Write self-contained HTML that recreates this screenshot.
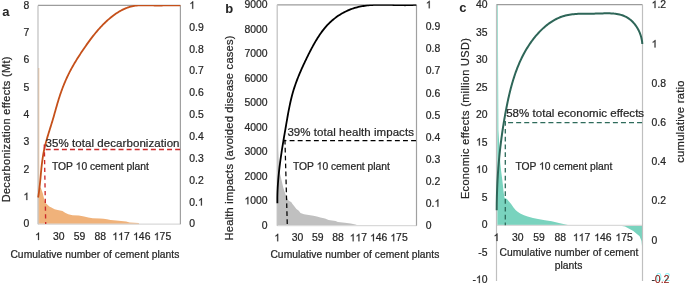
<!DOCTYPE html>
<html><head><meta charset="utf-8"><style>
html,body{margin:0;padding:0;background:#fff;}
svg{display:block;will-change:transform;}
text{font-family:"Liberation Sans", sans-serif;fill:#262626;}
text{stroke:#262626;stroke-width:0.22px;}
.one{stroke:#262626;stroke-width:0.22px;vector-effect:non-scaling-stroke;}
</style></head><body>
<svg width="685" height="284" viewBox="0 0 685 284" xmlns="http://www.w3.org/2000/svg">
<rect width="685" height="284" fill="#fff"/>

<path d="M38.00,224.20 L38.00,70.00 L38.60,184.00 L39.50,186.50 L41.00,188.30 L42.70,193.00 L44.30,199.40 L45.60,202.90 L47.20,204.40 L49.30,206.60 L51.40,207.60 L54.60,209.20 L57.70,209.90 L62.50,211.00 L65.10,212.70 L68.30,214.20 L72.50,215.20 L78.80,215.60 L84.10,216.60 L88.30,217.60 L92.60,218.20 L100.00,218.40 L103.50,218.70 L107.00,219.20 L110.60,219.90 L116.20,220.60 L121.10,221.10 L126.10,221.60 L129.60,222.50 L138.70,223.10 L139.20,224.20 Z" fill="#F0B27A"/>
<rect x="38" y="68" width="1.3" height="156.2" fill="#F3C79C"/>
<line x1="38.0" y1="224.2" x2="180.4" y2="224.2" stroke="#D9D9D9" stroke-width="1.2"/>
<line x1="38.0" y1="5.4" x2="180.4" y2="5.4" stroke="#9C9C9C" stroke-width="1.2"/>
<line x1="38.0" y1="5.4" x2="38.0" y2="224.2" stroke="#BFBFBF" stroke-width="1.2"/>
<line x1="180.4" y1="5.4" x2="180.4" y2="224.2" stroke="#A0A0A0" stroke-width="1.2"/>
<clipPath id="clipA"><rect x="30" y="5.0" width="151" height="230"/></clipPath>
<path d="M38.13,197.50 L38.33,196.28 L38.52,195.06 L38.70,193.84 L38.88,192.61 L39.04,191.39 L39.20,190.16 L39.35,188.93 L39.49,187.70 L39.63,186.47 L39.77,185.24 L39.90,184.00 L40.02,182.77 L40.14,181.53 L40.26,180.29 L40.38,179.06 L40.50,177.82 L40.61,176.58 L40.73,175.34 L40.84,174.11 L40.96,172.87 L41.08,171.63 L41.20,170.39 L41.32,169.16 L41.45,167.92 L41.58,166.69 L41.72,165.45 L41.86,164.22 L42.01,162.99 L42.16,161.75 L42.32,160.53 L42.49,159.30 L42.67,158.07 L42.85,156.85 L43.05,155.62 L43.25,154.40 L43.47,153.19 L43.70,151.97 L43.94,150.76 L44.19,149.54 L44.46,148.34 L44.73,147.13 L45.02,145.93 L45.32,144.73 L45.63,143.53 L45.95,142.33 L46.27,141.13 L46.61,139.94 L46.95,138.75 L47.29,137.56 L47.65,136.37 L48.00,135.18 L48.37,133.99 L48.73,132.80 L49.10,131.62 L49.47,130.43 L49.84,129.25 L50.21,128.06 L50.58,126.87 L50.95,125.69 L51.32,124.50 L51.69,123.32 L52.05,122.13 L52.41,120.94 L52.77,119.76 L53.12,118.57 L53.46,117.38 L53.81,116.19 L54.15,114.99 L54.49,113.80 L54.82,112.61 L55.16,111.42 L55.49,110.23 L55.83,109.04 L56.17,107.85 L56.50,106.66 L56.85,105.47 L57.19,104.28 L57.54,103.09 L57.89,101.90 L58.25,100.72 L58.61,99.53 L58.98,98.35 L59.36,97.17 L59.74,95.99 L60.13,94.81 L60.53,93.64 L60.94,92.46 L61.36,91.29 L61.78,90.12 L62.21,88.96 L62.65,87.80 L63.09,86.64 L63.55,85.48 L64.01,84.33 L64.48,83.18 L64.96,82.04 L65.45,80.90 L65.95,79.76 L66.45,78.63 L66.97,77.50 L67.49,76.38 L68.02,75.26 L68.57,74.15 L69.12,73.04 L69.68,71.94 L70.25,70.84 L70.83,69.75 L71.41,68.67 L72.01,67.59 L72.61,66.51 L73.22,65.44 L73.84,64.37 L74.47,63.30 L75.10,62.24 L75.74,61.18 L76.38,60.13 L77.04,59.08 L77.69,58.03 L78.36,56.99 L79.02,55.95 L79.70,54.91 L80.38,53.87 L81.06,52.84 L81.75,51.81 L82.44,50.78 L83.13,49.75 L83.83,48.72 L84.53,47.69 L85.24,46.67 L85.95,45.65 L86.66,44.63 L87.38,43.62 L88.11,42.61 L88.84,41.60 L89.57,40.60 L90.31,39.60 L91.06,38.61 L91.81,37.62 L92.57,36.64 L93.34,35.66 L94.11,34.69 L94.89,33.72 L95.68,32.76 L96.48,31.81 L97.28,30.87 L98.10,29.93 L98.92,29.00 L99.75,28.08 L100.59,27.17 L101.43,26.26 L102.29,25.37 L103.16,24.48 L104.04,23.60 L104.92,22.74 L105.82,21.88 L106.73,21.03 L107.65,20.20 L108.58,19.37 L109.52,18.56 L110.47,17.76 L111.44,16.98 L112.42,16.21 L113.40,15.46 L114.40,14.72 L115.41,14.00 L116.43,13.31 L117.47,12.63 L118.51,11.98 L119.57,11.35 L120.64,10.75 L121.72,10.17 L122.81,9.62 L123.91,9.10 L125.03,8.61 L126.15,8.15 L127.29,7.72 L128.44,7.32 L129.60,6.96 L130.77,6.63 L131.96,6.34 L133.16,6.09 L134.36,5.87 L135.58,5.69 L136.81,5.55 L138.05,5.43 L139.30,5.35 L140.55,5.29 L141.81,5.25 L143.07,5.23 L144.34,5.23 L145.61,5.24 L146.88,5.27 L148.15,5.30 L149.42,5.33 L150.69,5.37 L151.95,5.41 L153.21,5.45 L154.47,5.48 L155.72,5.50 L156.96,5.51 L158.20,5.52 L159.43,5.51 L160.66,5.50 L161.88,5.49 L163.11,5.47 L164.33,5.45 L165.55,5.42 L166.77,5.39 L167.99,5.37 L169.21,5.34 L170.44,5.32 L171.67,5.30 L172.90,5.29 L174.14,5.28 L175.38,5.28 L176.63,5.28 L177.88,5.29 L179.15,5.32 L180.42,5.35" fill="none" stroke="#C5501A" stroke-width="1.8" stroke-linejoin="round" clip-path="url(#clipA)"/>
<line x1="45.7" y1="149.5" x2="180.4" y2="149.5" stroke="#CC2A2A" stroke-width="1.35" stroke-dasharray="5.0,3.09" stroke-dashoffset="0.00"/>
<line x1="44.3" y1="144.4" x2="45.7" y2="224.0" stroke="#CC2A2A" stroke-width="1.35" stroke-dasharray="4.4,3.35" stroke-dashoffset="0.00"/>
<text x="23.41" y="227.42" font-size="10.4" fill="#262626" xml:space="preserve">0</text>
<path class="one" d="M763,0 L583,0 L583,1147 Q518,1085 424,1029.5 Q330,974 224,935 L224,1109 Q375,1180 487,1279.5 Q599,1379 642,1472 L763,1472 Z" transform="translate(23.42,200.10) scale(0.005078,-0.005078)" fill="#262626"/>
<text x="23.41" y="172.77" font-size="10.4" fill="#262626" xml:space="preserve">2</text>
<text x="23.41" y="145.45" font-size="10.4" fill="#262626" xml:space="preserve">3</text>
<text x="23.41" y="118.12" font-size="10.4" fill="#262626" xml:space="preserve">4</text>
<text x="23.41" y="90.80" font-size="10.4" fill="#262626" xml:space="preserve">5</text>
<text x="23.41" y="63.47" font-size="10.4" fill="#262626" xml:space="preserve">6</text>
<text x="23.41" y="36.15" font-size="10.4" fill="#262626" xml:space="preserve">7</text>
<text x="23.41" y="8.82" font-size="10.4" fill="#262626" xml:space="preserve">8</text>
<text x="189.30" y="227.42" font-size="10.4" fill="#262626" xml:space="preserve">0</text>
<text x="189.30" y="205.56" font-size="10.4" fill="#262626" xml:space="preserve">0.</text>
<path class="one" d="M763,0 L583,0 L583,1147 Q518,1085 424,1029.5 Q330,974 224,935 L224,1109 Q375,1180 487,1279.5 Q599,1379 642,1472 L763,1472 Z" transform="translate(197.97,205.56) scale(0.005078,-0.005078)" fill="#262626"/>
<text x="189.30" y="183.70" font-size="10.4" fill="#262626" xml:space="preserve">0.2</text>
<text x="189.30" y="161.84" font-size="10.4" fill="#262626" xml:space="preserve">0.3</text>
<text x="189.30" y="139.98" font-size="10.4" fill="#262626" xml:space="preserve">0.4</text>
<text x="189.30" y="118.12" font-size="10.4" fill="#262626" xml:space="preserve">0.5</text>
<text x="189.30" y="96.26" font-size="10.4" fill="#262626" xml:space="preserve">0.6</text>
<text x="189.30" y="74.40" font-size="10.4" fill="#262626" xml:space="preserve">0.7</text>
<text x="189.30" y="52.54" font-size="10.4" fill="#262626" xml:space="preserve">0.8</text>
<text x="189.30" y="30.68" font-size="10.4" fill="#262626" xml:space="preserve">0.9</text>
<path class="one" d="M763,0 L583,0 L583,1147 Q518,1085 424,1029.5 Q330,974 224,935 L224,1109 Q375,1180 487,1279.5 Q599,1379 642,1472 L763,1472 Z" transform="translate(189.30,8.82) scale(0.005078,-0.005078)" fill="#262626"/>
<path class="one" d="M763,0 L583,0 L583,1147 Q518,1085 424,1029.5 Q330,974 224,935 L224,1109 Q375,1180 487,1279.5 Q599,1379 642,1472 L763,1472 Z" transform="translate(35.11,240.00) scale(0.005078,-0.005078)" fill="#262626"/>
<text x="52.97" y="240.00" font-size="10.4" fill="#262626" xml:space="preserve">30</text>
<text x="73.72" y="240.00" font-size="10.4" fill="#262626" xml:space="preserve">59</text>
<text x="94.47" y="240.00" font-size="10.4" fill="#262626" xml:space="preserve">88</text>
<path class="one" d="M763,0 L583,0 L583,1147 Q518,1085 424,1029.5 Q330,974 224,935 L224,1109 Q375,1180 487,1279.5 Q599,1379 642,1472 L763,1472 Z" transform="translate(112.33,240.00) scale(0.005078,-0.005078)" fill="#262626"/>
<path class="one" d="M763,0 L583,0 L583,1147 Q518,1085 424,1029.5 Q330,974 224,935 L224,1109 Q375,1180 487,1279.5 Q599,1379 642,1472 L763,1472 Z" transform="translate(118.11,240.00) scale(0.005078,-0.005078)" fill="#262626"/>
<text x="123.90" y="240.00" font-size="10.4" fill="#262626" xml:space="preserve">7</text>
<path class="one" d="M763,0 L583,0 L583,1147 Q518,1085 424,1029.5 Q330,974 224,935 L224,1109 Q375,1180 487,1279.5 Q599,1379 642,1472 L763,1472 Z" transform="translate(133.08,240.00) scale(0.005078,-0.005078)" fill="#262626"/>
<text x="138.87" y="240.00" font-size="10.4" fill="#262626" xml:space="preserve">46</text>
<path class="one" d="M763,0 L583,0 L583,1147 Q518,1085 424,1029.5 Q330,974 224,935 L224,1109 Q375,1180 487,1279.5 Q599,1379 642,1472 L763,1472 Z" transform="translate(153.83,240.00) scale(0.005078,-0.005078)" fill="#262626"/>
<text x="159.62" y="240.00" font-size="10.4" fill="#262626" xml:space="preserve">75</text>
<text x="10.4" y="257.5" font-size="10.3" textLength="169">Cumulative number of cement plants</text>
<text transform="translate(10.2,202.3) rotate(-90)" font-size="10.9" textLength="145.8" >Decarbonization effects (Mt)</text>
<text x="2.2" y="15.8" font-size="13" font-weight="bold" fill="#000" style="stroke:none">a</text>
<text x="45.5" y="147" font-size="11.5" textLength="134" fill="#262626">35% total decarbonization</text>
<text x="52.00" y="169.60" font-size="10.3" fill="#262626" xml:space="preserve">TOP </text>
<path class="one" d="M763,0 L583,0 L583,1147 Q518,1085 424,1029.5 Q330,974 224,935 L224,1109 Q375,1180 487,1279.5 Q599,1379 642,1472 L763,1472 Z" transform="translate(75.66,169.60) scale(0.005029,-0.005029)" fill="#262626"/>
<text x="81.39" y="169.60" font-size="10.3" fill="#262626" xml:space="preserve">0 cement plant</text>
<path d="M277.20,225.70 L277.20,60.00 L278.30,150.00 L279.10,170.00 L281.10,178.20 L283.20,187.30 L284.20,190.40 L286.20,196.50 L288.30,200.30 L290.00,201.40 L291.20,202.00 L292.30,203.80 L294.70,206.70 L296.40,209.00 L298.80,210.80 L300.50,213.10 L304.00,214.30 L308.70,215.10 L313.40,215.80 L316.90,216.60 L320.40,217.40 L325.00,218.40 L328.60,220.10 L335.60,220.90 L337.90,221.90 L344.90,222.80 L350.70,223.60 L355.40,224.60 L359.00,225.70 Z" fill="#C0C0C0"/>
<line x1="277.2" y1="225.7" x2="416.5" y2="225.7" stroke="#D9D9D9" stroke-width="1.2"/>
<line x1="277.2" y1="4.8" x2="416.5" y2="4.8" stroke="#9C9C9C" stroke-width="1.2"/>
<line x1="277.2" y1="4.8" x2="277.2" y2="225.7" stroke="#BFBFBF" stroke-width="1.2"/>
<line x1="416.5" y1="4.8" x2="416.5" y2="225.7" stroke="#A0A0A0" stroke-width="1.2"/>
<clipPath id="clipB"><rect x="270" y="4.4" width="147" height="230"/></clipPath>
<path d="M277.39,203.23 L277.37,201.92 L277.37,200.62 L277.37,199.32 L277.37,198.02 L277.39,196.72 L277.41,195.42 L277.44,194.13 L277.48,192.83 L277.53,191.54 L277.58,190.24 L277.64,188.95 L277.70,187.66 L277.77,186.37 L277.85,185.08 L277.94,183.79 L278.03,182.50 L278.12,181.21 L278.22,179.92 L278.33,178.64 L278.44,177.35 L278.56,176.07 L278.69,174.78 L278.82,173.50 L278.95,172.21 L279.09,170.93 L279.23,169.65 L279.38,168.37 L279.53,167.09 L279.69,165.81 L279.85,164.53 L280.01,163.25 L280.18,161.97 L280.35,160.69 L280.53,159.41 L280.71,158.13 L280.89,156.86 L281.08,155.58 L281.26,154.30 L281.46,153.02 L281.65,151.75 L281.85,150.47 L282.05,149.20 L282.25,147.92 L282.45,146.64 L282.66,145.37 L282.87,144.09 L283.08,142.82 L283.29,141.54 L283.50,140.26 L283.71,138.99 L283.93,137.71 L284.14,136.44 L284.36,135.16 L284.58,133.89 L284.80,132.61 L285.02,131.33 L285.24,130.06 L285.46,128.78 L285.68,127.50 L285.90,126.23 L286.12,124.95 L286.34,123.67 L286.56,122.39 L286.78,121.11 L287.00,119.84 L287.22,118.56 L287.45,117.28 L287.67,116.00 L287.90,114.73 L288.13,113.45 L288.37,112.18 L288.61,110.91 L288.86,109.64 L289.11,108.37 L289.36,107.10 L289.62,105.83 L289.89,104.57 L290.16,103.30 L290.44,102.04 L290.73,100.79 L291.02,99.53 L291.33,98.28 L291.64,97.03 L291.96,95.78 L292.29,94.54 L292.63,93.30 L292.98,92.06 L293.35,90.83 L293.72,89.60 L294.10,88.37 L294.50,87.15 L294.91,85.93 L295.32,84.71 L295.75,83.50 L296.19,82.29 L296.63,81.09 L297.09,79.88 L297.55,78.68 L298.03,77.49 L298.51,76.29 L298.99,75.10 L299.49,73.91 L299.99,72.72 L300.50,71.54 L301.02,70.35 L301.54,69.17 L302.07,67.99 L302.60,66.82 L303.14,65.64 L303.68,64.47 L304.23,63.30 L304.78,62.12 L305.34,60.95 L305.90,59.79 L306.46,58.62 L307.03,57.45 L307.60,56.29 L308.17,55.12 L308.75,53.96 L309.33,52.80 L309.92,51.65 L310.52,50.50 L311.12,49.35 L311.73,48.20 L312.34,47.06 L312.97,45.92 L313.60,44.79 L314.23,43.66 L314.88,42.53 L315.54,41.41 L316.20,40.30 L316.88,39.19 L317.56,38.08 L318.26,36.99 L318.96,35.90 L319.68,34.82 L320.41,33.75 L321.16,32.69 L321.92,31.64 L322.69,30.61 L323.48,29.59 L324.29,28.58 L325.11,27.59 L325.95,26.61 L326.81,25.65 L327.69,24.71 L328.59,23.78 L329.50,22.87 L330.44,21.99 L331.39,21.12 L332.36,20.27 L333.34,19.44 L334.35,18.63 L335.37,17.85 L336.40,17.08 L337.45,16.34 L338.51,15.61 L339.59,14.91 L340.68,14.23 L341.79,13.58 L342.91,12.94 L344.04,12.33 L345.18,11.75 L346.33,11.19 L347.50,10.65 L348.67,10.14 L349.85,9.65 L351.05,9.19 L352.25,8.75 L353.46,8.34 L354.68,7.96 L355.91,7.60 L357.14,7.27 L358.38,6.97 L359.63,6.69 L360.88,6.43 L362.14,6.20 L363.41,5.99 L364.68,5.79 L365.95,5.62 L367.23,5.47 L368.52,5.34 L369.81,5.22 L371.10,5.12 L372.39,5.03 L373.69,4.96 L374.99,4.90 L376.30,4.86 L377.61,4.83 L378.91,4.80 L380.22,4.79 L381.54,4.79 L382.85,4.79 L384.16,4.80 L385.47,4.82 L386.79,4.84 L388.10,4.87 L389.41,4.90 L390.72,4.94 L392.03,4.97 L393.34,5.01 L394.65,5.05 L395.96,5.08 L397.26,5.12 L398.56,5.15 L399.85,5.17 L401.15,5.20 L402.44,5.21 L403.72,5.22 L405.00,5.23 L406.28,5.22 L407.55,5.21 L408.82,5.18 L410.08,5.15 L411.33,5.10 L412.58,5.04 L413.83,4.97 L415.06,4.88 L416.29,4.77" fill="none" stroke="#000" stroke-width="1.8" stroke-linejoin="round" clip-path="url(#clipB)"/>
<line x1="283.6" y1="140.5" x2="416.5" y2="140.5" stroke="#000" stroke-width="1.25" stroke-dasharray="4.9,3.2" stroke-dashoffset="2.10"/>
<line x1="284.9" y1="138.6" x2="287.3" y2="225.5" stroke="#000" stroke-width="1.25" stroke-dasharray="4.7,3.25" stroke-dashoffset="6.75"/>
<text x="261.81" y="228.82" font-size="10.4" fill="#262626" xml:space="preserve">0</text>
<path class="one" d="M763,0 L583,0 L583,1147 Q518,1085 424,1029.5 Q330,974 224,935 L224,1109 Q375,1180 487,1279.5 Q599,1379 642,1472 L763,1472 Z" transform="translate(244.46,204.32) scale(0.005078,-0.005078)" fill="#262626"/>
<text x="250.25" y="204.32" font-size="10.4" fill="#262626" xml:space="preserve">000</text>
<text x="244.46" y="179.82" font-size="10.4" fill="#262626" xml:space="preserve">2000</text>
<text x="244.46" y="155.32" font-size="10.4" fill="#262626" xml:space="preserve">3000</text>
<text x="244.46" y="130.82" font-size="10.4" fill="#262626" xml:space="preserve">4000</text>
<text x="244.46" y="106.32" font-size="10.4" fill="#262626" xml:space="preserve">5000</text>
<text x="244.46" y="81.82" font-size="10.4" fill="#262626" xml:space="preserve">6000</text>
<text x="244.46" y="57.32" font-size="10.4" fill="#262626" xml:space="preserve">7000</text>
<text x="244.46" y="32.82" font-size="10.4" fill="#262626" xml:space="preserve">8000</text>
<text x="244.46" y="8.32" font-size="10.4" fill="#262626" xml:space="preserve">9000</text>
<text x="425.80" y="228.82" font-size="10.4" fill="#262626" xml:space="preserve">0</text>
<text x="425.80" y="206.77" font-size="10.4" fill="#262626" xml:space="preserve">0.</text>
<path class="one" d="M763,0 L583,0 L583,1147 Q518,1085 424,1029.5 Q330,974 224,935 L224,1109 Q375,1180 487,1279.5 Q599,1379 642,1472 L763,1472 Z" transform="translate(434.47,206.77) scale(0.005078,-0.005078)" fill="#262626"/>
<text x="425.80" y="184.72" font-size="10.4" fill="#262626" xml:space="preserve">0.2</text>
<text x="425.80" y="162.67" font-size="10.4" fill="#262626" xml:space="preserve">0.3</text>
<text x="425.80" y="140.62" font-size="10.4" fill="#262626" xml:space="preserve">0.4</text>
<text x="425.80" y="118.57" font-size="10.4" fill="#262626" xml:space="preserve">0.5</text>
<text x="425.80" y="96.52" font-size="10.4" fill="#262626" xml:space="preserve">0.6</text>
<text x="425.80" y="74.47" font-size="10.4" fill="#262626" xml:space="preserve">0.7</text>
<text x="425.80" y="52.42" font-size="10.4" fill="#262626" xml:space="preserve">0.8</text>
<text x="425.80" y="30.37" font-size="10.4" fill="#262626" xml:space="preserve">0.9</text>
<path class="one" d="M763,0 L583,0 L583,1147 Q518,1085 424,1029.5 Q330,974 224,935 L224,1109 Q375,1180 487,1279.5 Q599,1379 642,1472 L763,1472 Z" transform="translate(425.80,8.32) scale(0.005078,-0.005078)" fill="#262626"/>
<path class="one" d="M763,0 L583,0 L583,1147 Q518,1085 424,1029.5 Q330,974 224,935 L224,1109 Q375,1180 487,1279.5 Q599,1379 642,1472 L763,1472 Z" transform="translate(274.31,241.30) scale(0.005078,-0.005078)" fill="#262626"/>
<text x="291.72" y="241.30" font-size="10.4" fill="#262626" xml:space="preserve">30</text>
<text x="312.02" y="241.30" font-size="10.4" fill="#262626" xml:space="preserve">59</text>
<text x="332.32" y="241.30" font-size="10.4" fill="#262626" xml:space="preserve">88</text>
<path class="one" d="M763,0 L583,0 L583,1147 Q518,1085 424,1029.5 Q330,974 224,935 L224,1109 Q375,1180 487,1279.5 Q599,1379 642,1472 L763,1472 Z" transform="translate(349.72,241.30) scale(0.005078,-0.005078)" fill="#262626"/>
<path class="one" d="M763,0 L583,0 L583,1147 Q518,1085 424,1029.5 Q330,974 224,935 L224,1109 Q375,1180 487,1279.5 Q599,1379 642,1472 L763,1472 Z" transform="translate(355.51,241.30) scale(0.005078,-0.005078)" fill="#262626"/>
<text x="361.29" y="241.30" font-size="10.4" fill="#262626" xml:space="preserve">7</text>
<path class="one" d="M763,0 L583,0 L583,1147 Q518,1085 424,1029.5 Q330,974 224,935 L224,1109 Q375,1180 487,1279.5 Q599,1379 642,1472 L763,1472 Z" transform="translate(370.02,241.30) scale(0.005078,-0.005078)" fill="#262626"/>
<text x="375.81" y="241.30" font-size="10.4" fill="#262626" xml:space="preserve">46</text>
<path class="one" d="M763,0 L583,0 L583,1147 Q518,1085 424,1029.5 Q330,974 224,935 L224,1109 Q375,1180 487,1279.5 Q599,1379 642,1472 L763,1472 Z" transform="translate(390.32,241.30) scale(0.005078,-0.005078)" fill="#262626"/>
<text x="396.11" y="241.30" font-size="10.4" fill="#262626" xml:space="preserve">75</text>
<text x="270.4" y="257.5" font-size="10.3" textLength="169">Cumulative number of cement plants</text>
<text transform="translate(232.8,240.5) rotate(-90)" font-size="11.1" textLength="205">Health impacts (avoided disease cases)</text>
<text x="225.3" y="13.3" font-size="13" font-weight="bold" fill="#000" style="stroke:none">b</text>
<text x="287.4" y="136.2" font-size="11.5" textLength="126.5">39% total health impacts</text>
<text x="293.00" y="169.50" font-size="10.3" fill="#262626" xml:space="preserve">TOP </text>
<path class="one" d="M763,0 L583,0 L583,1147 Q518,1085 424,1029.5 Q330,974 224,935 L224,1109 Q375,1180 487,1279.5 Q599,1379 642,1472 L763,1472 Z" transform="translate(316.66,169.50) scale(0.005029,-0.005029)" fill="#262626"/>
<text x="322.39" y="169.50" font-size="10.3" fill="#262626" xml:space="preserve">0 cement plant</text>
<path d="M496.50,225.30 L496.50,4.40 L497.80,4.40 L498.40,130.00 L499.60,150.00 L500.30,163.00 L501.00,170.00 L502.30,180.00 L502.90,185.00 L503.60,192.00 L504.50,197.80 L506.90,199.10 L509.00,201.50 L511.30,204.30 L513.50,207.50 L515.80,210.20 L518.00,212.00 L520.20,213.40 L524.00,215.20 L527.60,216.40 L533.00,217.90 L538.00,219.10 L545.00,220.20 L551.70,221.30 L560.00,223.20 L569.00,225.30 Z" fill="#79D3BE"/>
<rect x="496.5" y="4.7" width="1.4" height="220.6" fill="#A6E3D4"/>
<path d="M617.40,225.30 L625.00,226.50 L633.30,230.90 L639.60,236.20 L641.50,241.00 L642.00,246.00 L642.20,258.00 L642.50,258.00 L642.50,225.30 Z" fill="#79D3BE"/>
<line x1="496.5" y1="225.3" x2="642.5" y2="225.3" stroke="#D9D9D9" stroke-width="1.2"/>
<line x1="496.5" y1="4.7" x2="642.5" y2="4.7" stroke="#9C9C9C" stroke-width="1.2"/>
<line x1="496.5" y1="4.7" x2="496.5" y2="281" stroke="#BFBFBF" stroke-width="1.2"/>
<line x1="642.5" y1="4.7" x2="642.5" y2="281" stroke="#BFBFBF" stroke-width="1.2"/>
<path d="M496.73,210.29 L496.73,208.85 L496.74,207.41 L496.75,205.96 L496.76,204.52 L496.78,203.08 L496.80,201.64 L496.83,200.21 L496.86,198.77 L496.89,197.33 L496.92,195.90 L496.96,194.47 L497.00,193.03 L497.05,191.60 L497.10,190.17 L497.15,188.74 L497.21,187.31 L497.27,185.88 L497.33,184.45 L497.40,183.03 L497.47,181.60 L497.54,180.18 L497.62,178.75 L497.71,177.33 L497.79,175.91 L497.88,174.48 L497.97,173.06 L498.07,171.64 L498.17,170.22 L498.28,168.80 L498.38,167.38 L498.50,165.97 L498.61,164.55 L498.73,163.13 L498.85,161.72 L498.98,160.30 L499.11,158.88 L499.24,157.47 L499.38,156.06 L499.52,154.64 L499.67,153.23 L499.82,151.82 L499.97,150.40 L500.13,148.99 L500.29,147.58 L500.45,146.17 L500.62,144.76 L500.80,143.35 L500.97,141.94 L501.15,140.53 L501.34,139.12 L501.52,137.71 L501.71,136.30 L501.91,134.89 L502.11,133.48 L502.31,132.08 L502.52,130.67 L502.73,129.26 L502.95,127.85 L503.16,126.45 L503.39,125.04 L503.61,123.63 L503.84,122.23 L504.08,120.82 L504.32,119.41 L504.56,118.00 L504.81,116.60 L505.06,115.19 L505.31,113.79 L505.57,112.38 L505.83,110.97 L506.10,109.57 L506.37,108.16 L506.65,106.75 L506.92,105.35 L507.21,103.94 L507.50,102.54 L507.79,101.13 L508.10,99.73 L508.40,98.33 L508.72,96.93 L509.04,95.53 L509.36,94.13 L509.70,92.74 L510.04,91.35 L510.39,89.96 L510.74,88.57 L511.11,87.19 L511.48,85.80 L511.86,84.43 L512.25,83.05 L512.66,81.68 L513.07,80.31 L513.49,78.95 L513.92,77.59 L514.36,76.23 L514.81,74.88 L515.27,73.54 L515.74,72.20 L516.23,70.86 L516.72,69.53 L517.23,68.20 L517.75,66.88 L518.29,65.57 L518.83,64.26 L519.39,62.96 L519.97,61.66 L520.55,60.37 L521.15,59.09 L521.77,57.81 L522.40,56.54 L523.04,55.28 L523.70,54.02 L524.38,52.78 L525.07,51.54 L525.77,50.31 L526.50,49.08 L527.23,47.87 L527.99,46.66 L528.76,45.46 L529.55,44.28 L530.36,43.10 L531.18,41.93 L532.03,40.77 L532.89,39.61 L533.77,38.47 L534.67,37.34 L535.58,36.23 L536.52,35.12 L537.47,34.04 L538.44,32.97 L539.43,31.91 L540.43,30.88 L541.45,29.86 L542.50,28.87 L543.55,27.89 L544.63,26.95 L545.72,26.02 L546.83,25.12 L547.95,24.25 L549.10,23.41 L550.26,22.60 L551.43,21.81 L552.62,21.06 L553.83,20.34 L555.05,19.66 L556.30,19.01 L557.55,18.40 L558.82,17.82 L560.11,17.28 L561.41,16.79 L562.73,16.33 L564.07,15.92 L565.42,15.55 L566.78,15.22 L568.16,14.94 L569.55,14.69 L570.95,14.48 L572.36,14.30 L573.79,14.15 L575.22,14.02 L576.66,13.92 L578.10,13.84 L579.55,13.79 L581.01,13.74 L582.47,13.71 L583.93,13.70 L585.39,13.69 L586.85,13.68 L588.32,13.68 L589.78,13.68 L591.24,13.67 L592.69,13.67 L594.14,13.65 L595.59,13.62 L597.02,13.58 L598.46,13.54 L599.88,13.49 L601.31,13.44 L602.72,13.39 L604.14,13.35 L605.55,13.33 L606.96,13.32 L608.36,13.32 L609.77,13.36 L611.17,13.41 L612.58,13.50 L613.98,13.62 L615.38,13.79 L616.78,13.99 L618.17,14.24 L619.55,14.54 L620.92,14.89 L622.26,15.30 L623.58,15.78 L624.86,16.32 L626.12,16.93 L627.34,17.61 L628.52,18.36 L629.66,19.19 L630.76,20.07 L631.81,21.02 L632.83,22.02 L633.79,23.07 L634.72,24.17 L635.59,25.32 L636.42,26.51 L637.20,27.73 L637.93,28.99 L638.60,30.28 L639.23,31.59 L639.80,32.93 L640.31,34.29 L640.77,35.66 L641.18,37.04 L641.52,38.44 L641.80,39.83 L642.03,41.23 L642.19,42.62 L642.29,44.00" fill="none" stroke="#2E6658" stroke-width="2" stroke-linejoin="round"/>
<line x1="505.4" y1="122.6" x2="642.5" y2="122.6" stroke="#2E6B5B" stroke-width="1.3" stroke-dasharray="5.0,3.06" stroke-dashoffset="5.36"/>
<line x1="505.3" y1="121.1" x2="505.3" y2="225.2" stroke="#2E6B5B" stroke-width="1.3" stroke-dasharray="4.7,3.1" stroke-dashoffset="0.00"/>
<text x="472.47" y="283.02" font-size="10.4" fill="#262626" xml:space="preserve">-</text>
<path class="one" d="M763,0 L583,0 L583,1147 Q518,1085 424,1029.5 Q330,974 224,935 L224,1109 Q375,1180 487,1279.5 Q599,1379 642,1472 L763,1472 Z" transform="translate(475.93,283.02) scale(0.005078,-0.005078)" fill="#262626"/>
<text x="481.71" y="283.02" font-size="10.4" fill="#262626" xml:space="preserve">0</text>
<text x="478.25" y="255.53" font-size="10.4" fill="#262626" xml:space="preserve">-5</text>
<text x="481.71" y="228.04" font-size="10.4" fill="#262626" xml:space="preserve">0</text>
<text x="481.71" y="200.55" font-size="10.4" fill="#262626" xml:space="preserve">5</text>
<path class="one" d="M763,0 L583,0 L583,1147 Q518,1085 424,1029.5 Q330,974 224,935 L224,1109 Q375,1180 487,1279.5 Q599,1379 642,1472 L763,1472 Z" transform="translate(475.93,173.06) scale(0.005078,-0.005078)" fill="#262626"/>
<text x="481.71" y="173.06" font-size="10.4" fill="#262626" xml:space="preserve">0</text>
<path class="one" d="M763,0 L583,0 L583,1147 Q518,1085 424,1029.5 Q330,974 224,935 L224,1109 Q375,1180 487,1279.5 Q599,1379 642,1472 L763,1472 Z" transform="translate(475.93,145.57) scale(0.005078,-0.005078)" fill="#262626"/>
<text x="481.71" y="145.57" font-size="10.4" fill="#262626" xml:space="preserve">5</text>
<text x="475.93" y="118.08" font-size="10.4" fill="#262626" xml:space="preserve">20</text>
<text x="475.93" y="90.59" font-size="10.4" fill="#262626" xml:space="preserve">25</text>
<text x="475.93" y="63.10" font-size="10.4" fill="#262626" xml:space="preserve">30</text>
<text x="475.93" y="35.61" font-size="10.4" fill="#262626" xml:space="preserve">35</text>
<text x="475.93" y="8.12" font-size="10.4" fill="#262626" xml:space="preserve">40</text>
<path class="one" d="M763,0 L583,0 L583,1147 Q518,1085 424,1029.5 Q330,974 224,935 L224,1109 Q375,1180 487,1279.5 Q599,1379 642,1472 L763,1472 Z" transform="translate(651.60,8.12) scale(0.005078,-0.005078)" fill="#262626"/>
<text x="657.38" y="8.12" font-size="10.4" fill="#262626" xml:space="preserve">.2</text>
<path class="one" d="M763,0 L583,0 L583,1147 Q518,1085 424,1029.5 Q330,974 224,935 L224,1109 Q375,1180 487,1279.5 Q599,1379 642,1472 L763,1472 Z" transform="translate(651.60,47.39) scale(0.005078,-0.005078)" fill="#262626"/>
<text x="651.60" y="86.67" font-size="10.4" fill="#262626" xml:space="preserve">0.8</text>
<text x="651.60" y="125.94" font-size="10.4" fill="#262626" xml:space="preserve">0.6</text>
<text x="651.60" y="165.21" font-size="10.4" fill="#262626" xml:space="preserve">0.4</text>
<text x="651.60" y="204.48" font-size="10.4" fill="#262626" xml:space="preserve">0.2</text>
<text x="651.60" y="243.75" font-size="10.4" fill="#262626" xml:space="preserve">0</text>
<text x="651.6" y="283.02" font-size="10.4" fill="#404040">-</text>
<text x="655.06" y="283.02" font-size="10.4" style="fill:#262626;opacity:0.45;stroke:none">0.2</text>
<g style="mix-blend-mode:multiply"><text x="655.96" y="280.62" font-size="10.4" style="fill:#8AF2F6;stroke:none">0.2</text></g>
<g style="mix-blend-mode:multiply"><text x="654.86" y="283.02" font-size="10.4" style="fill:#E5392F;stroke:none">0.2</text></g>
<path class="one" d="M763,0 L583,0 L583,1147 Q518,1085 424,1029.5 Q330,974 224,935 L224,1109 Q375,1180 487,1279.5 Q599,1379 642,1472 L763,1472 Z" transform="translate(493.61,241.00) scale(0.005078,-0.005078)" fill="#262626"/>
<text x="511.99" y="241.00" font-size="10.4" fill="#262626" xml:space="preserve">30</text>
<text x="533.27" y="241.00" font-size="10.4" fill="#262626" xml:space="preserve">59</text>
<text x="554.54" y="241.00" font-size="10.4" fill="#262626" xml:space="preserve">88</text>
<path class="one" d="M763,0 L583,0 L583,1147 Q518,1085 424,1029.5 Q330,974 224,935 L224,1109 Q375,1180 487,1279.5 Q599,1379 642,1472 L763,1472 Z" transform="translate(572.93,241.00) scale(0.005078,-0.005078)" fill="#262626"/>
<path class="one" d="M763,0 L583,0 L583,1147 Q518,1085 424,1029.5 Q330,974 224,935 L224,1109 Q375,1180 487,1279.5 Q599,1379 642,1472 L763,1472 Z" transform="translate(578.71,241.00) scale(0.005078,-0.005078)" fill="#262626"/>
<text x="584.50" y="241.00" font-size="10.4" fill="#262626" xml:space="preserve">7</text>
<path class="one" d="M763,0 L583,0 L583,1147 Q518,1085 424,1029.5 Q330,974 224,935 L224,1109 Q375,1180 487,1279.5 Q599,1379 642,1472 L763,1472 Z" transform="translate(594.21,241.00) scale(0.005078,-0.005078)" fill="#262626"/>
<text x="599.99" y="241.00" font-size="10.4" fill="#262626" xml:space="preserve">46</text>
<path class="one" d="M763,0 L583,0 L583,1147 Q518,1085 424,1029.5 Q330,974 224,935 L224,1109 Q375,1180 487,1279.5 Q599,1379 642,1472 L763,1472 Z" transform="translate(615.48,241.00) scale(0.005078,-0.005078)" fill="#262626"/>
<text x="621.27" y="241.00" font-size="10.4" fill="#262626" xml:space="preserve">75</text>
<text x="499.4" y="256.4" font-size="10.3" textLength="139">Cumulative number of cement</text>
<text x="554.8" y="268.8" font-size="10.3" textLength="27.6">plants</text>
<text transform="translate(468.9,199) rotate(-90)" font-size="10.9" textLength="160.8">Economic effects (million USD)</text>
<text transform="translate(684,162.8) rotate(-90)" font-size="11.2" textLength="82.4">cumulative ratio</text>
<text x="459.2" y="12.4" font-size="13" font-weight="bold" fill="#000" style="stroke:none">c</text>
<text x="506.2" y="117" font-size="11.5" textLength="137.9">58% total economic effects</text>
<text x="515.40" y="169.60" font-size="10.3" fill="#262626" xml:space="preserve">TOP </text>
<path class="one" d="M763,0 L583,0 L583,1147 Q518,1085 424,1029.5 Q330,974 224,935 L224,1109 Q375,1180 487,1279.5 Q599,1379 642,1472 L763,1472 Z" transform="translate(539.06,169.60) scale(0.005029,-0.005029)" fill="#262626"/>
<text x="544.79" y="169.60" font-size="10.3" fill="#262626" xml:space="preserve">0 cement plant</text>
</svg></body></html>
